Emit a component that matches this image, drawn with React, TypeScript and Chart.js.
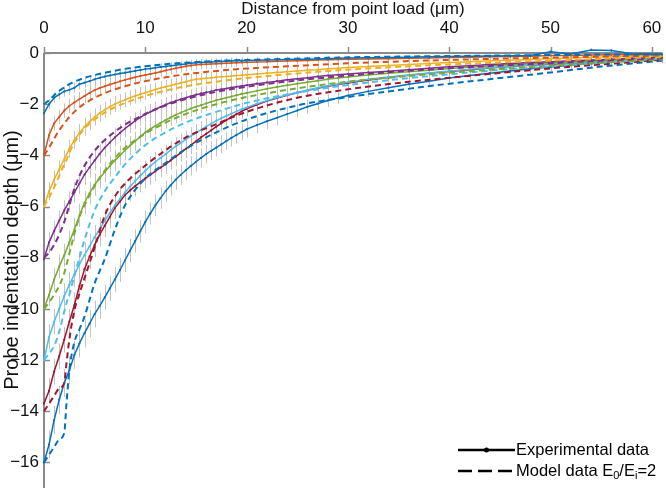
import React, { useEffect, useRef } from "react";
import { Chart, registerables } from "chart.js";
Chart.register(...registerables);

// ---------- data ----------
const xTicks = [0, 10, 20, 30, 40, 50, 60];
const yTicks = [0, -2, -4, -6, -8, -10, -12, -14, -16];

// experimental sampling positions (μm)
const xExp = [
  0, 0.5, 1, 1.5, 2, 2.5, 3, 3.5, 4, 4.5, 5, 5.5, 6, 6.5, 7, 7.5, 8, 8.5, 9, 9.5, 10,
  10.5, 11, 11.5, 12, 12.5, 13, 13.5, 14, 14.5, 15, 15.5, 16, 16.5, 17, 17.5, 18, 18.5, 19, 19.5, 20,
  21, 22, 23, 24, 25, 26, 27, 28, 29, 30,
  32, 34, 36, 38, 40, 42, 44, 46, 48, 50, 52, 54, 56, 58, 60,
  61,
];

const exp2 = [
  -2.35, -2.0, -1.75, -1.62, -1.5, -1.44, -1.36, -1.22, -1.16, -1.1, -1.03, -0.97, -0.92, -0.88, -0.84, -0.8, -0.77, -0.73, -0.7, -0.66, -0.63,
  -0.61, -0.58, -0.55, -0.53, -0.5, -0.48, -0.45, -0.43, -0.4, -0.38, -0.37, -0.36, -0.35, -0.34, -0.33, -0.32, -0.31, -0.3, -0.3, -0.29,
  -0.28, -0.27, -0.26, -0.25, -0.24, -0.24, -0.23, -0.22, -0.21, -0.2,
  -0.19, -0.18, -0.17, -0.15, -0.14, -0.13, -0.12, -0.11, -0.1, 0.05, -0.04, 0.12, 0.1, -0.03, -0.05,
  -0.05,
];
const exp4 = [
  -3.98, -3.2, -2.75, -2.5, -2.25, -2.07, -1.93, -1.8, -1.68, -1.56, -1.45, -1.37, -1.3, -1.23, -1.17, -1.11, -1.05, -1.0, -0.95, -0.9, -0.86,
  -0.82, -0.78, -0.73, -0.68, -0.64, -0.6, -0.56, -0.52, -0.49, -0.46, -0.45, -0.44, -0.43, -0.42, -0.41, -0.4, -0.39, -0.38, -0.37, -0.365,
  -0.35, -0.34, -0.32, -0.31, -0.3, -0.29, -0.27, -0.26, -0.25, -0.24,
  -0.23, -0.22, -0.21, -0.2, -0.18, -0.17, -0.15, -0.14, -0.13, -0.1, -0.1, -0.08, -0.07, -0.06, -0.06,
  -0.06,
];
const exp6 = [
  -6.0, -5.4, -4.95, -4.55, -4.15, -3.75, -3.4, -3.12, -2.88, -2.68, -2.5, -2.35, -2.22, -2.1, -2.0, -1.91, -1.83, -1.75, -1.68, -1.61, -1.55,
  -1.49, -1.43, -1.37, -1.32, -1.27, -1.22, -1.17, -1.12, -1.07, -1.03, -1.01, -0.99, -0.97, -0.95, -0.93, -0.92, -0.9, -0.88, -0.87, -0.85,
  -0.82, -0.79, -0.76, -0.73, -0.7, -0.67, -0.65, -0.62, -0.6, -0.57,
  -0.53, -0.49, -0.45, -0.41, -0.37, -0.34, -0.3, -0.28, -0.25, -0.22, -0.2, -0.17, -0.15, -0.13, -0.11,
  -0.1,
];
const exp8 = [
  -8.05, -7.4, -6.95, -6.55, -6.15, -5.8, -5.45, -5.1, -4.75, -4.47, -4.2, -3.94, -3.7, -3.5, -3.3, -3.12, -2.95, -2.8, -2.65, -2.52, -2.4,
  -2.3, -2.2, -2.11, -2.02, -1.94, -1.87, -1.81, -1.75, -1.69, -1.63, -1.58, -1.54, -1.5, -1.45, -1.42, -1.39, -1.35, -1.32, -1.29, -1.26,
  -1.2, -1.15, -1.1, -1.05, -1.01, -0.97, -0.92, -0.88, -0.85, -0.82,
  -0.76, -0.71, -0.65, -0.6, -0.54, -0.5, -0.45, -0.41, -0.37, -0.34, -0.3, -0.27, -0.24, -0.21, -0.19,
  -0.18,
];
const exp10 = [
  -10, -9.45, -8.85, -8.35, -7.9, -7.4, -6.9, -6.35, -5.85, -5.48, -5.15, -4.88, -4.65, -4.42, -4.2, -4.0, -3.8, -3.62, -3.45, -3.27, -3.1,
  -2.97, -2.85, -2.73, -2.62, -2.52, -2.42, -2.33, -2.25, -2.17, -2.1, -2.04, -1.97, -1.91, -1.85, -1.8, -1.75, -1.7, -1.65, -1.6, -1.56,
  -1.48, -1.4, -1.33, -1.26, -1.2, -1.14, -1.08, -1.03, -0.98, -0.94,
  -0.86, -0.79, -0.73, -0.67, -0.61, -0.56, -0.51, -0.46, -0.42, -0.38, -0.35, -0.31, -0.28, -0.25, -0.23,
  -0.22,
];
const exp12 = [
  -12, -11.1, -10.5, -10.0, -9.5, -9.05, -8.65, -8.25, -7.9, -7.55, -7.2, -6.87, -6.55, -6.25, -5.95, -5.7, -5.45, -5.22, -5.0, -4.8, -4.6,
  -4.42, -4.25, -4.1, -3.95, -3.8, -3.65, -3.51, -3.38, -3.25, -3.12, -3.0, -2.88, -2.76, -2.65, -2.55, -2.46, -2.37, -2.28, -2.2, -2.13,
  -1.98, -1.86, -1.74, -1.64, -1.54, -1.45, -1.36, -1.28, -1.21, -1.14,
  -1.03, -0.94, -0.86, -0.78, -0.7, -0.64, -0.58, -0.52, -0.47, -0.42, -0.38, -0.34, -0.3, -0.26, -0.23,
  -0.22,
];
const exp14 = [
  -13.7, -13.2, -12.45, -11.85, -11.2, -10.5, -9.85, -9.1, -8.45, -7.95, -7.5, -7.1, -6.75, -6.4, -6.05, -5.8, -5.55, -5.37, -5.2, -5.05, -4.9,
  -4.76, -4.62, -4.48, -4.35, -4.2, -4.05, -3.9, -3.75, -3.6, -3.45, -3.3, -3.16, -3.02, -2.88, -2.75, -2.62, -2.5, -2.39, -2.28, -2.18,
  -2.02, -1.88, -1.76, -1.65, -1.55, -1.46, -1.38, -1.3, -1.23, -1.17,
  -1.06, -0.96, -0.87, -0.79, -0.72, -0.65, -0.59, -0.53, -0.48, -0.44, -0.4, -0.36, -0.32, -0.28, -0.26,
  -0.25,
];
const exp16 = [
  -16, -15.3, -14.35, -13.55, -12.9, -12.4, -11.8, -11.35, -10.95, -10.58, -10.2, -9.88, -9.55, -9.2, -8.85, -8.48, -8.1, -7.72, -7.35, -6.97, -6.6,
  -6.27, -5.95, -5.67, -5.4, -5.17, -4.95, -4.76, -4.58, -4.41, -4.25, -4.1, -3.95, -3.82, -3.7, -3.57, -3.44, -3.32, -3.2, -3.09, -2.98,
  -2.82, -2.67, -2.53, -2.39, -2.25, -2.1, -1.98, -1.86, -1.76, -1.66,
  -1.5, -1.36, -1.22, -1.1, -0.98, -0.88, -0.79, -0.7, -0.62, -0.55, -0.48, -0.41, -0.34, -0.27, -0.21,
  -0.2,
];

// error bar half-widths: shared profile along x, scaled per series
const errProfile = [
  1, 1, 1, 1, 1, 1, 1, 1, 1, 0.97, 0.95, 0.93, 0.9, 0.9, 0.88, 0.86, 0.85, 0.84, 0.82, 0.8, 0.8,
  0.78, 0.77, 0.76, 0.75, 0.74, 0.73, 0.72, 0.71, 0.7, 0.69, 0.68, 0.67, 0.66, 0.65, 0.64, 0.63, 0.62, 0.61, 0.6, 0.6,
  0.58, 0.56, 0.54, 0.52, 0.5, 0.48, 0.46, 0.45, 0.44, 0.42,
  0.4, 0.38, 0.36, 0.35, 0.34, 0.33, 0.32, 0.31, 0.3, 0.3, 0.3, 0.3, 0.3, 0.3, 0.3,
  0.3,
];
const errScale = [0.2, 0.28, 0.35, 0.4, 0.45, 0.5, 0.5, 0.55];

// model sampling positions (μm)
const xModel = [0, 0.5, 1, 1.5, 2, 2.2, 2.5, 3, 3.5, 4, 5, 6, 7, 8, 10, 12, 14, 17, 20, 25, 30, 35, 40, 45, 50, 55, 61];

const model2 = [-2, -1.85, -1.65, -1.48, -1.35, -1.3, -1.22, -1.12, -1.04, -0.97, -0.86, -0.77, -0.69, -0.62, -0.52, -0.44, -0.38, -0.31, -0.27, -0.22, -0.17, -0.14, -0.12, -0.1, -0.08, -0.06, -0.05];
const model4 = [-4, -3.7, -3.35, -3.02, -2.75, -2.65, -2.5, -2.3, -2.12, -1.98, -1.75, -1.57, -1.42, -1.3, -1.1, -0.95, -0.83, -0.7, -0.61, -0.5, -0.4, -0.33, -0.27, -0.22, -0.18, -0.14, -0.1];
const model6 = [-6, -5.65, -5.25, -4.8, -4.35, -4.2, -3.9, -3.5, -3.2, -2.95, -2.6, -2.33, -2.12, -1.95, -1.68, -1.47, -1.3, -1.12, -0.98, -0.8, -0.65, -0.54, -0.45, -0.37, -0.3, -0.23, -0.16];
const model8 = [-8, -7.8, -7.5, -7.1, -6.6, -6.35, -5.95, -5.3, -4.8, -4.4, -3.82, -3.4, -3.07, -2.8, -2.38, -2.05, -1.8, -1.52, -1.32, -1.07, -0.88, -0.72, -0.6, -0.49, -0.4, -0.3, -0.2];
const model10 = [-10, -9.75, -9.45, -9.1, -8.6, -8.3, -7.85, -7.05, -6.4, -5.95, -5.2, -4.6, -4.1, -3.7, -3.15, -2.72, -2.38, -2.0, -1.72, -1.38, -1.12, -0.93, -0.77, -0.63, -0.5, -0.38, -0.25];
const model12 = [-12, -11.75, -11.45, -10.9, -10.1, -9.8, -9.45, -8.7, -8.0, -7.3, -6.15, -5.4, -4.85, -4.35, -3.6, -3.1, -2.72, -2.3, -1.95, -1.55, -1.25, -1.02, -0.83, -0.66, -0.52, -0.38, -0.22];
const model14 = [-14, -13.7, -13.4, -13.1, -12.9, -12.2, -11.2, -10.05, -9.4, -8.8, -7.6, -6.35, -5.6, -5.1, -4.4, -3.8, -3.3, -2.78, -2.3, -1.75, -1.42, -1.17, -0.97, -0.78, -0.6, -0.45, -0.26];
const model16 = [-16, -15.7, -15.4, -15.1, -14.85, -13.8, -12.4, -11.3, -10.8, -10.3, -9.0, -8.05, -6.9, -5.95, -4.9, -4.3, -3.75, -3.1, -2.6, -2.05, -1.72, -1.45, -1.2, -0.98, -0.76, -0.53, -0.3];

const seriesColors = ["#0072BD", "#D95319", "#EDB120", "#7E2F8E", "#77AC30", "#4DBEEE", "#A2142F", "#0072BD"];
const expSeries = [exp2, exp4, exp6, exp8, exp10, exp12, exp14, exp16];
const modelSeries = [model2, model4, model6, model8, model10, model12, model14, model16];

const xTitle = "Distance from point load (μm)";
const yTitle = "Probe indentation depth (μm)";
const legendExp = "Experimental data";

const FONT = '"Liberation Sans", Arial, sans-serif';
const AXIS_COLOR = "#8a8a8a";

export default function App() {
  const ref = useRef<HTMLCanvasElement>(null);

  useEffect(() => {
    document.body.style.margin = "0";
    const canvas = ref.current!;

    const pairs = (xs: number[], ys: number[]) => xs.map((x, i) => ({ x, y: ys[i] }));

    const modelDatasets = modelSeries.map((ys, i) => ({
      label: "model" + i,
      data: pairs(xModel, ys),
      borderColor: seriesColors[i],
      borderWidth: 2,
      borderDash: [6, 4],
      pointRadius: 0,
      cubicInterpolationMode: "monotone" as const,
      clip: false as any,
    }));
    const expDatasets = expSeries.map((ys, i) => ({
      label: "exp" + i,
      data: pairs(xExp, ys),
      borderColor: seriesColors[i],
      backgroundColor: seriesColors[i],
      borderWidth: 1.5,
      pointRadius: 1.1,
      pointBorderWidth: 0,
      tension: 0,
      clip: false as any,
    }));

    const errorBars = {
      id: "errorBars",
      beforeDatasetsDraw(chart: any) {
        const c = chart.ctx;
        const xs = chart.scales.x;
        const ysc = chart.scales.y;
        c.save();
        c.strokeStyle = "rgba(185,185,185,0.85)";
        c.lineWidth = 1;
        expSeries.forEach((ys, i) => {
          ys.forEach((v, j) => {
            const e = errProfile[j] * errScale[i];
            const px = Math.round(xs.getPixelForValue(xExp[j])) + 0.5;
            c.beginPath();
            c.moveTo(px, ysc.getPixelForValue(v + e));
            c.lineTo(px, ysc.getPixelForValue(v - e));
            c.stroke();
          });
        });
        c.restore();
      },
    };

    const axes = {
      id: "axesText",
      beforeDatasetsDraw(chart: any) {
        const c = chart.ctx;
        const a = chart.chartArea;
        const xs = chart.scales.x;
        const ysc = chart.scales.y;
        c.save();
        c.strokeStyle = AXIS_COLOR;
        c.lineWidth = 2;
        c.beginPath();
        c.moveTo(a.left, a.top);
        c.lineTo(a.right, a.top);
        c.moveTo(a.left, a.top);
        c.lineTo(a.left, a.bottom);
        c.stroke();
        c.lineWidth = 1.5;
        xTicks.forEach((t) => {
          const px = Math.round(xs.getPixelForValue(t)) + 0.5;
          c.beginPath();
          c.moveTo(px, a.top - 6);
          c.lineTo(px, a.top);
          c.stroke();
        });
        yTicks.forEach((t) => {
          const py = Math.round(ysc.getPixelForValue(t)) + 0.5;
          c.beginPath();
          c.moveTo(a.left, py);
          c.lineTo(a.left + 6, py);
          c.stroke();
        });
        c.restore();
      },
      afterDraw(chart: any) {
        const c = chart.ctx;
        const a = chart.chartArea;
        const xs = chart.scales.x;
        const ysc = chart.scales.y;
        c.save();
        c.fillStyle = "#111";
        c.font = `17px ${FONT}`;
        c.textAlign = "center";
        c.textBaseline = "middle";
        xTicks.forEach((t) => c.fillText(String(t), xs.getPixelForValue(t), 28));
        c.textAlign = "right";
        yTicks.forEach((t) => c.fillText(t === 0 ? "0" : "\u2212" + Math.abs(t), 39, ysc.getPixelForValue(t)));
        c.textAlign = "center";
        c.font = `17px ${FONT}`;
        c.fillText(xTitle, (a.left + a.right) / 2, 9);
        c.save();
        c.translate(12, 260);
        c.rotate(-Math.PI / 2);
        c.font = `20px ${FONT}`;
        c.fillText(yTitle, 0, 0);
        c.restore();

        // legend
        const lx0 = 458, lx1 = 515;
        const r1 = 450, r2 = 471;
        c.strokeStyle = "#000";
        c.lineWidth = 2.5;
        c.beginPath();
        c.moveTo(lx0, r1);
        c.lineTo(lx1, r1);
        c.stroke();
        c.fillStyle = "#000";
        c.beginPath();
        c.arc((lx0 + lx1) / 2, r1, 2.5, 0, Math.PI * 2);
        c.fill();
        c.setLineDash([14, 6]);
        c.beginPath();
        c.moveTo(lx0, r2);
        c.lineTo(lx1, r2);
        c.stroke();
        c.setLineDash([]);
        c.textAlign = "left";
        c.font = `16.5px ${FONT}`;
        c.fillText(legendExp, lx1 + 1, r1);
        let tx = lx1 + 1;
        const parts: [string, boolean][] = [["Model data E", false], ["0", true], ["/E", false], ["i", true], ["=2", false]];
        parts.forEach(([s, sub]) => {
          c.font = sub ? `11px ${FONT}` : `16.5px ${FONT}`;
          c.fillText(s, tx, sub ? r2 + 5 : r2);
          tx += c.measureText(s).width;
        });
        c.restore();
      },
    };

    const chart = new Chart(canvas, {
      type: "line",
      data: { datasets: [...modelDatasets, ...expDatasets] as any },
      options: {
        responsive: false,
        devicePixelRatio: 1,
        animation: false,
        layout: { padding: { left: 0, top: 0, right: 4, bottom: 2 } },
        plugins: { legend: { display: false }, tooltip: { enabled: false } },
        scales: {
          x: {
            type: "linear",
            position: "top",
            min: 0,
            max: 61,
            ticks: { display: false },
            grid: { display: false },
            border: { display: false },
            afterFit: (s: any) => { s.height = 53; },
          },
          y: {
            type: "linear",
            min: -17,
            max: 0,
            ticks: { display: false },
            grid: { display: false },
            border: { display: false },
            afterFit: (s: any) => { s.width = 44; },
          },
        },
      },
      plugins: [errorBars, axes],
    });
    return () => chart.destroy();
  }, []);

  return (
    <div style={{ position: "absolute", left: 0, top: 0, width: 666, height: 492 }}>
      <canvas ref={ref} width={666} height={492} style={{ width: 666, height: 492, display: "block" }} />
    </div>
  );
}
